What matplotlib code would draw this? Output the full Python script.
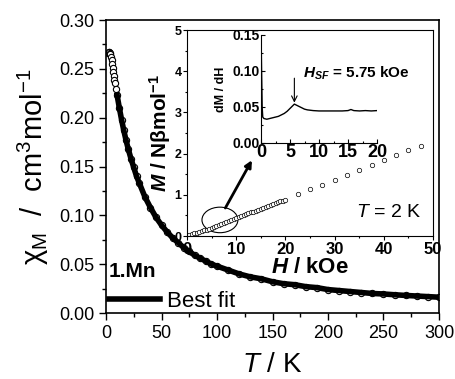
import matplotlib
matplotlib.use('Agg')
import matplotlib.pyplot as plt
from matplotlib.patches import Ellipse
from matplotlib.ticker import MultipleLocator, FormatStrFormatter

plt.rcParams['font.family'] = ['Liberation Sans', 'DejaVu Sans']
plt.rcParams['mathtext.fontset'] = 'custom'
plt.rcParams['mathtext.rm'] = 'Liberation Sans'
plt.rcParams['mathtext.it'] = 'Liberation Sans:italic'
plt.rcParams['mathtext.bf'] = 'Liberation Sans:bold'
plt.rcParams['mathtext.cal'] = 'Liberation Sans:bold:italic'

# chi_M vs T (main panel)
T_data = [2, 2.5, 3, 3.5, 4, 4.5, 5, 5.5, 6, 6.5, 7, 7.5, 8, 9, 10, 12, 14, 16, 18, 20,
          22.5, 25, 27.5, 30, 35, 40, 45, 50, 55, 60, 65, 70, 75, 80, 85, 90, 95, 100,
          110, 120, 130, 140, 150, 160, 170, 180, 190, 200, 210, 220, 230, 240, 250,
          260, 270, 280, 290, 300]
chi_data = [0.266, 0.267, 0.267, 0.266, 0.265, 0.262, 0.259, 0.255, 0.251, 0.247, 0.243,
            0.239, 0.236, 0.229, 0.223, 0.210, 0.198, 0.187, 0.177, 0.168,
            0.158, 0.149, 0.140, 0.133, 0.119, 0.108, 0.098, 0.090, 0.083, 0.077, 0.072,
            0.067, 0.063, 0.059, 0.056, 0.053, 0.050, 0.048,
            0.044, 0.040, 0.037, 0.035, 0.032, 0.030, 0.029, 0.027, 0.026, 0.024, 0.023,
            0.022, 0.021, 0.020, 0.0195, 0.0187, 0.018, 0.0174, 0.0168, 0.0162]
T_fit = [10, 12, 14, 16, 18, 20, 22.5, 25, 27.5, 30, 35, 40, 45, 50, 55, 60, 65, 70, 75,
         80, 85, 90, 95, 100, 110, 120, 130, 140, 150, 160, 170, 180, 190, 200, 210,
         220, 230, 240, 250, 260, 270, 280, 290, 300]
chi_fit = [0.223, 0.210, 0.198, 0.187, 0.177, 0.168, 0.158, 0.149, 0.140, 0.133, 0.119,
           0.108, 0.098, 0.090, 0.083, 0.077, 0.072, 0.067, 0.063, 0.059, 0.056, 0.053,
           0.050, 0.048, 0.044, 0.040, 0.037, 0.035, 0.032, 0.030, 0.029, 0.027, 0.026,
           0.024, 0.023, 0.022, 0.021, 0.020, 0.0195, 0.0187, 0.018, 0.0174, 0.0168, 0.0162]

# M vs H at 2 K (inset)
H_data = [0, 0.5, 1, 1.5, 2, 2.5, 3, 3.5, 4, 4.5, 5, 5.5, 6, 6.5, 7, 7.5, 8, 8.5, 9, 9.5,
          10, 10.5, 11, 11.5, 12, 12.5, 13, 13.5, 14, 14.5, 15, 15.5, 16, 16.5, 17, 17.5,
          18, 18.5, 19, 19.5, 20, 22.5, 25, 27.5, 30, 32.5, 35, 37.5, 40, 42.5, 45, 47.5]
M_data = [0.0, 0.028, 0.045, 0.062, 0.079, 0.097, 0.115, 0.134, 0.154, 0.175, 0.198,
          0.223, 0.249, 0.275, 0.300, 0.324, 0.347, 0.370, 0.393, 0.415, 0.438, 0.460,
          0.483, 0.505, 0.527, 0.549, 0.571, 0.593, 0.616, 0.638, 0.660, 0.683, 0.706,
          0.728, 0.750, 0.772, 0.795, 0.817, 0.839, 0.861, 0.883,
          1.01, 1.13, 1.25, 1.37, 1.49, 1.61, 1.73, 1.85, 1.97, 2.08, 2.18]

# dM/dH (inner inset)
H_der = [0, 0.1, 0.2, 0.3, 0.5, 1, 1.5, 2, 2.5, 3, 3.5, 4, 4.5, 5, 5.5, 5.75, 6, 6.5, 7,
         7.5, 8, 9, 10, 11, 12, 13, 14, 15, 15.5, 16, 17, 18, 19, 20]
dMdH = [0.155, 0.10, 0.05, 0.036, 0.034, 0.033, 0.034, 0.035, 0.036, 0.037, 0.039, 0.041,
        0.044, 0.048, 0.052, 0.054, 0.053, 0.051, 0.049, 0.047, 0.046, 0.045, 0.0445,
        0.0445, 0.0445, 0.0445, 0.0445, 0.045, 0.0465, 0.045, 0.0445, 0.045, 0.0445, 0.045]

fig = plt.figure(figsize=(4.56, 3.79), dpi=100)

# ---- main panel
ax = fig.add_axes([0.2325, 0.1741, 0.7302, 0.7731])
ax.plot(T_data, chi_data, 'o', ms=4.5, mfc='white', mec='black', mew=0.8, zorder=2)
fit_line, = ax.plot(T_fit, chi_fit, '-', color='black', lw=4, zorder=3)
ax.set_xlim(0, 300)
ax.set_ylim(0, 0.30)
ax.xaxis.set_major_locator(MultipleLocator(50))
ax.xaxis.set_minor_locator(MultipleLocator(25))
ax.yaxis.set_major_locator(MultipleLocator(0.05))
ax.yaxis.set_minor_locator(MultipleLocator(0.025))
ax.yaxis.set_major_formatter(FormatStrFormatter('%.2f'))
ax.tick_params(which='both', direction='out', top=False, right=False, labelsize=13, width=1)
ax.tick_params(which='major', length=5)
ax.tick_params(which='minor', length=3)
ax.set_xlabel('$T$ / K', fontsize=20, labelpad=7)
ax.set_ylabel(r'$\mathrm{\chi_M}$  /  cm$^3$mol$^{-1}$', fontsize=21, labelpad=6)
ax.text(2.5, 0.037, '1.Mn', fontsize=15, fontweight='bold', va='baseline')
ax.legend([fit_line], ['Best fit'], loc='lower left', frameon=False, fontsize=16,
          handlelength=2.3, handletextpad=0.3, borderpad=0.2, borderaxespad=0,
          bbox_to_anchor=(-0.005, -0.01))
for s in ax.spines.values():
    s.set_linewidth(1.2)

# ---- M vs H inset
ax1 = fig.add_axes([0.410, 0.3773, 0.5396, 0.5435])
ax1.plot(H_data, M_data, 'o', ms=3.2, mfc='white', mec='black', mew=0.5)
ax1.set_xlim(0, 50)
ax1.set_ylim(0, 5)
ax1.xaxis.set_major_locator(MultipleLocator(10))
ax1.xaxis.set_minor_locator(MultipleLocator(5))
ax1.yaxis.set_major_locator(MultipleLocator(1))
ax1.yaxis.set_minor_locator(MultipleLocator(0.5))
ax1.tick_params(which='both', direction='out', top=False, right=False, width=0.8, pad=1)
ax1.tick_params(axis='x', labelsize=12)
ax1.tick_params(axis='y', labelsize=9)
ax1.tick_params(which='major', length=3)
ax1.tick_params(which='minor', length=1.5)
for lab in ax1.get_xticklabels() + ax1.get_yticklabels():
    lab.set_fontweight('bold')
ax1.set_xlabel(r'$\mathcal{H}$ / kOe', fontsize=16, fontweight='bold', labelpad=0)
ax1.set_ylabel(r'$\mathcal{M}$ / N$\mathbf{\beta}$mol$^{\mathbf{-1}}$', fontsize=15,
               fontweight='bold', labelpad=1)
ax1.text(47.5, 0.56, '$T$ = 2 K', fontsize=14, ha='right', va='center')
ax1.add_patch(Ellipse((6.7, 0.39), 7.3, 0.62, fill=False, lw=0.8, color='black'))
ax1.annotate('', xy=(13.2, 1.84), xytext=(7.8, 0.68),
             arrowprops=dict(arrowstyle='-|>', lw=2, color='black', mutation_scale=10,
                             shrinkA=0, shrinkB=0))

# ---- dM/dH inset
ax2 = fig.add_axes([0.5724, 0.6227, 0.2544, 0.2850])
ax2.plot(H_der, dMdH, '-', color='black', lw=1)
ax2.set_xlim(0, 20)
ax2.set_ylim(0, 0.15)
ax2.xaxis.set_major_locator(MultipleLocator(5))
ax2.xaxis.set_minor_locator(MultipleLocator(2.5))
ax2.yaxis.set_major_locator(MultipleLocator(0.05))
ax2.yaxis.set_minor_locator(MultipleLocator(0.025))
ax2.yaxis.set_major_formatter(FormatStrFormatter('%.2f'))
ax2.patch.set_alpha(0)
ax2.spines['top'].set_visible(False)
ax2.spines['right'].set_visible(False)
ax2.tick_params(which='both', direction='in', width=0.8, pad=1)
ax2.tick_params(which='major', length=3)
ax2.tick_params(which='minor', length=1.5)
ax2.tick_params(axis='x', labelsize=13)
ax2.tick_params(axis='y', labelsize=10)
for lab in ax2.get_xticklabels() + ax2.get_yticklabels():
    lab.set_fontweight('bold')
ax2.set_ylabel('dM / dH', fontsize=9, fontweight='bold', labelpad=4)
ax2.text(7.3, 0.097, r'$\mathcal{H}_{\mathcal{SF}}$ = 5.75 kOe', fontsize=11,
         fontweight='bold', va='center')
ax2.annotate('', xy=(5.75, 0.056), xytext=(5.75, 0.090),
             arrowprops=dict(arrowstyle='->', lw=0.8, color='black', shrinkA=0, shrinkB=0))

fig.savefig('out.png', dpi=100)
